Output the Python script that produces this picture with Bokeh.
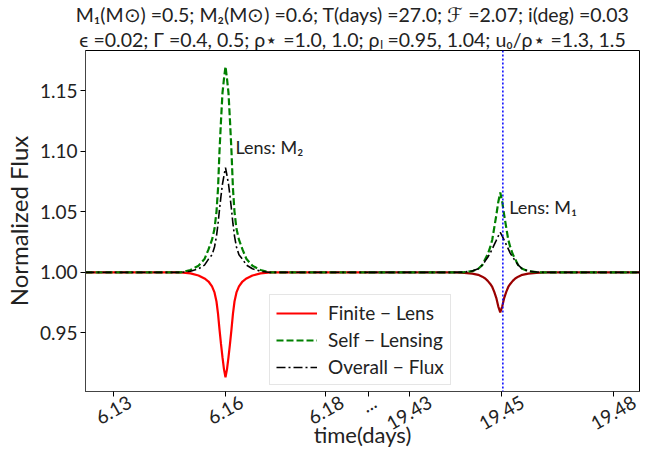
import math
from bokeh.plotting import figure
from bokeh.models import (Range1d, FixedTicker, LinearAxis, Legend, LegendItem,
                          Label, Span, Title, NumeralTickFormatter)
from bokeh.embed import file_html
from bokeh.resources import INLINE

# ---------------- data ----------------
time_left = [6.1225, 6.14802, 6.15070, 6.15285, 6.15446, 6.15554, 6.15648, 6.15715,
             6.15768, 6.15809, 6.15849, 6.15889, 6.15929, 6.15970, 6.16010, 6.16050,
             6.16091, 6.16131, 6.16171, 6.16211, 6.16252, 6.16305, 6.16372, 6.16466,
             6.16574, 6.16735, 6.16950, 6.17218, 6.1985]
finite_left = [1.000, 1.000, 0.9992, 0.9975, 0.995, 0.9925, 0.9885, 0.9835, 0.976, 0.966,
               0.953, 0.941, 0.930, 0.920, 0.9135, 0.920, 0.930, 0.941, 0.953, 0.966,
               0.976, 0.9835, 0.9885, 0.9925, 0.995, 0.9975, 0.9992, 1.000, 1.000]
self_left = [1.000, 1.000, 1.002, 1.0055, 1.011, 1.019, 1.027, 1.036, 1.050, 1.069,
             1.100, 1.125, 1.148, 1.160, 1.170, 1.160, 1.148, 1.125, 1.100, 1.069,
             1.050, 1.036, 1.027, 1.019, 1.011, 1.0055, 1.002, 1.000, 1.000]
overall_left = [1.000, 1.000, 1.001, 1.003, 1.006, 1.011, 1.0145, 1.021, 1.030, 1.040,
                1.052, 1.063, 1.073, 1.080, 1.0865, 1.080, 1.073, 1.063, 1.052, 1.040,
                1.030, 1.021, 1.0145, 1.011, 1.006, 1.003, 1.001, 1.000, 1.000]

time_right = [19.4143, 19.43762, 19.44004, 19.44218, 19.44379, 19.44487, 19.44567,
              19.44634, 19.44702, 19.44755, 19.44809, 19.44863, 19.44916, 19.44970,
              19.45024, 19.45077, 19.45131, 19.45185, 19.45238, 19.45306, 19.45373,
              19.45453, 19.45561, 19.45722, 19.45936, 19.46178, 19.4871]
finite_right = [1.000, 1.000, 0.9997, 0.999, 0.998, 0.9965, 0.995, 0.993, 0.9905, 0.988,
                0.984, 0.979, 0.972, 0.967, 0.972, 0.979, 0.984, 0.988, 0.9905, 0.993,
                0.995, 0.9965, 0.998, 0.999, 0.9997, 1.000, 1.000]
self_right = [1.000, 1.000, 1.0002, 1.001, 1.003, 1.006, 1.011, 1.015, 1.021, 1.027,
              1.037, 1.047, 1.058, 1.066, 1.058, 1.047, 1.037, 1.027, 1.021, 1.015,
              1.011, 1.006, 1.003, 1.001, 1.0002, 1.000, 1.000]
overall_right = [1.000, 1.000, 1.0003, 1.0012, 1.003, 1.006, 1.0095, 1.0125, 1.016, 1.0195,
                 1.023, 1.0265, 1.030, 1.033, 1.030, 1.0265, 1.023, 1.0195, 1.016, 1.0125,
                 1.0095, 1.006, 1.003, 1.0012, 1.0003, 1.000, 1.000]

tick_times = [6.13, 6.16, 6.187, 6.1985, 19.4252, 19.45, 19.48]
tick_labels = ["6.13", "6.16", "6.18", "...", "19.43", "19.45", "19.48"]
y_ticks = [0.95, 1.00, 1.05, 1.10, 1.15]
marker_time = 19.4504
break_left, break_right = 6.1985, 19.4143
x_start, x_end = 6.1225, 19.4871
y_start, y_end = 0.9017, 1.1832

title_line1 = "M₁(M⊙) =0.5;  M₂(M⊙) =0.6;  T(days) =27.0;  ℱ =2.07;  i(deg) =0.03"
title_line2 = "ϵ =0.02;  Γ =0.4, 0.5;  ρ⋆ =1.0, 1.0;  ρₗ =0.95, 1.04;  u₀/ρ⋆ =1.3, 1.5"

# ---------------- broken-axis mapping ----------------
GAP = break_right - break_left


def to_axis(t):
    return t - GAP if t > break_right - 1e-9 else t


FONT = "Lato"
FS = "19px"
FRAME_W = 554
TXT = "#222222"

xr = Range1d(to_axis(x_start), to_axis(x_end))
p = figure(width=660, height=458, output_backend="svg", toolbar_location=None,
           x_range=xr, y_range=Range1d(y_start, y_end),
           min_border_left=77, min_border_right=21, min_border_top=43, min_border_bottom=67)
p.xgrid.grid_line_color = None
p.ygrid.grid_line_color = None
p.outline_line_color = "black"
p.outline_line_width = 1
p.background_fill_color = "white"

# lines
xl = [to_axis(t) for t in time_left]
xr_ = [to_axis(t) for t in time_right]
r_red = p.line(xl, finite_left, line_color="#ff0000", line_width=2.2)
p.line(xr_, finite_right, line_color="#9a0000", line_width=2.2)
r_green = p.line(xl, self_left, line_color="#008000", line_width=2.2, line_dash="7 3")
p.line(xr_, self_right, line_color="#008000", line_width=2.2, line_dash="7 3")
r_black = p.line(xl, overall_left, line_color="black", line_width=1.6, line_dash="9 3 2 3")
p.line(xr_, overall_right, line_color="black", line_width=1.6, line_dash="9 3 2 3")

p.add_layout(Span(location=to_axis(marker_time), dimension="height", line_color="blue",
                  line_dash="2 2", line_width=1.5))

p.add_layout(Label(x=to_axis(6.16276), y=1.1035, text="Lens: M₂", text_font=FONT,
                   text_font_size="18px", text_baseline="middle", text_color=TXT))
p.add_layout(Label(x=to_axis(19.4521), y=1.054, text="Lens: M₁", text_font=FONT,
                   text_font_size="18px", text_baseline="middle", text_color=TXT))

# y axis
ya = p.yaxis[0]
ya.ticker = FixedTicker(ticks=y_ticks)
ya.formatter = NumeralTickFormatter(format="0.00")
ya.major_label_text_font = FONT
ya.major_label_text_font_size = FS
ya.major_label_text_color = TXT
ya.axis_label = "Normalized Flux"
ya.axis_label_text_font = FONT
ya.axis_label_text_font_size = "24px"
ya.axis_label_text_font_style = "normal"
ya.axis_label_text_color = TXT
ya.axis_label_standoff = 4
ya.major_tick_out = 5
ya.major_tick_in = 0
ya.minor_tick_line_color = None
ya.axis_line_color = "#444444"
ya.major_label_standoff = 3

# x axis: tick marks only
tick_pos = [round(to_axis(t), 6) for t in tick_times]
xa = p.xaxis[0]
xa.ticker = FixedTicker(ticks=tick_pos)
xa.major_label_text_font_size = "1px"
xa.major_label_text_color = None
xa.major_label_standoff = 0
xa.major_tick_out = 5
xa.major_tick_in = 0
xa.minor_tick_line_color = None
xa.axis_line_color = "#444444"

# x axis: rotated labels centred on their ticks
dpp = (to_axis(x_end) - to_axis(x_start)) / FRAME_W
label_pos = []
for t, lab in zip(tick_pos, tick_labels):
    w = sum(4.8 if ch == "." else 11.0 for ch in lab)
    label_pos.append(round(t + 0.433 * w * dpp, 6))
xa2 = LinearAxis(ticker=FixedTicker(ticks=label_pos),
                 major_label_overrides={pos: lab for pos, lab in zip(label_pos, tick_labels)})
xa2.axis_line_color = None
xa2.major_tick_line_color = None
xa2.minor_tick_line_color = None
xa2.major_tick_out = 0
xa2.major_tick_in = 0
xa2.major_label_orientation = math.pi / 6
xa2.major_label_standoff = 4
xa2.major_label_text_font = FONT
xa2.major_label_text_font_size = FS
xa2.major_label_text_color = TXT
xa2.axis_label = "time(days)"
xa2.axis_label_text_font = FONT
xa2.axis_label_text_font_size = "22px"
xa2.axis_label_text_font_style = "normal"
xa2.axis_label_text_color = TXT
xa2.axis_label_standoff = -19
p.add_layout(xa2, "below")

# legend
legend = Legend(items=[LegendItem(label="Finite − Lens", renderers=[r_red]),
                       LegendItem(label="Self − Lensing", renderers=[r_green]),
                       LegendItem(label="Overall − Flux", renderers=[r_black])],
                location=(184, 6))
legend.label_text_font = FONT
legend.label_text_font_size = FS
legend.label_text_color = TXT
legend.glyph_width = 41
legend.glyph_height = 22
legend.label_height = 22
legend.spacing = 4
legend.padding = 6
legend.margin = 0
legend.label_standoff = 11
legend.border_line_color = "#cccccc"
legend.border_line_width = 1
legend.background_fill_alpha = 0.85
p.add_layout(legend)

# titles (the figure's own title sits outermost)
p.title.text = title_line1
p.title.align = "center"
p.title.offset = 6
p.title.text_font = FONT
p.title.text_font_size = "19.5px"
p.title.text_line_height = 0.9
p.title.text_font_style = "normal"
p.title.text_color = TXT
p.title.standoff = 0
p.add_layout(Title(text=title_line2, align="center", offset=0, text_font=FONT,
                   text_font_size="19.5px", text_line_height=0.9, text_font_style="normal",
                   text_color=TXT, standoff=0), "above")

open("out.html", "w").write(file_html(p, INLINE))
